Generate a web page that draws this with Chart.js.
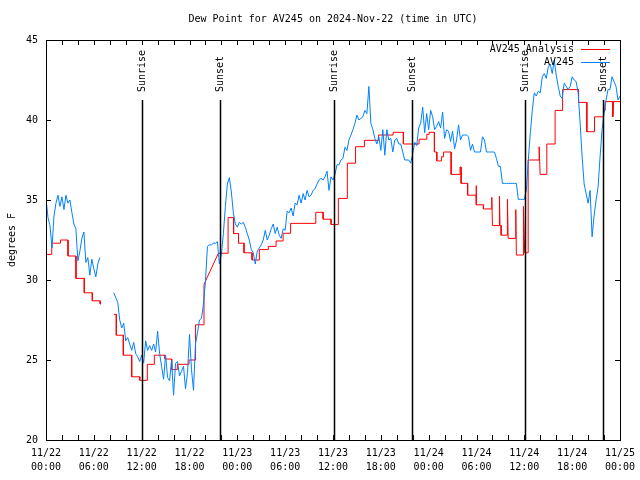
<!DOCTYPE html>
<html>
<head>
<meta charset="utf-8">
<title>Dew Point for AV245</title>
<script src="https://cdn.jsdelivr.net/npm/chart.js@4.4.1/dist/chart.umd.min.js"></script>
<style>
  html, body { margin: 0; padding: 0; background: #fff; }
  canvas { display: block; }
</style>
</head>
<body>
<canvas id="dewChart" width="640" height="480"></canvas>
<script>
// ---------- Data (hours since 2024-11-22 00:00 UTC) ----------
const titleText = "Dew Point for AV245 on 2024-Nov-22 (time in UTC)";
const tickDates = ["11/22", "11/22", "11/22", "11/22", "11/23", "11/23", "11/23", "11/23", "11/24", "11/24", "11/24", "11/24", "11/25"];
const tickTimes = ["00:00", "06:00", "12:00", "18:00", "00:00", "06:00", "12:00", "18:00", "00:00", "06:00", "12:00", "18:00", "00:00"];

const eventNames = ["Sunrise", "Sunset", "Sunrise", "Sunset", "Sunrise", "Sunset"];
const eventHours = [12.08, 21.87, 36.17, 45.96, 60.14, 69.93];

// AV245 observations, one every 15 minutes from 00:00 (null = no data)
const obsStep = 0.25;
const obsValues = [
  35.1, 33.9, 33.4, 32.0, 34.0, 34.8, 35.3, 34.6, 35.2, 34.4, 35.3, 34.8, 35.0, 34.2, 33.5, 33.2,
  31.2, 31.8, 32.6, 33.0, 31.1, 31.4, 30.3, 31.3, 30.7, 30.2, 31.0, 31.4,
  null, null, null, null, null, null,
  29.2, 28.9, 28.6, 27.5, 27.0, 27.3, 26.2, 26.4, 26.0, 25.6, 26.1, 25.4, 25.2, 24.9, 25.3, 24.8,
  26.2, 25.6, 25.9, 25.6, 26.0, 25.5, 26.8, 25.4, 24.6, 23.8, 25.3, 23.9,
  23.7, 25.0, 22.8, 24.8, 24.9, 24.0, 24.3, 24.6, 23.2, 24.2, 26.6, 24.4, 23.1, 26.0, 26.7, 27.5,
  27.6, 28.5, 29.9, 32.1, 32.2, 32.2, 32.3, 32.3, 32.4, 31.0, 31.6, 32.9, 34.6, 36.0, 36.4, 35.5,
  34.2, 33.5, 33.3, 33.6, 33.5, 33.6, 33.3, 32.9, 32.5, 31.9, 31.7, 31.0, 31.8, 32.0, 32.2, 32.5,
  33.1, 32.5, 32.8, 33.2, 33.5, 32.9, 33.3, 32.8, 32.6, 33.2, 33.1,
  34.3, 34.2, 34.5, 34.0, 34.8, 34.7, 35.3, 34.8, 35.4, 35.0, 35.6, 35.2, 35.3, 35.6, 35.7, 36.0,
  36.25, 36.35, 36.25, 36.45, 36.8, 35.6, 36.45, 36.25, 36.6, 37.2, 37.2, 37.5, 37.6, 38.3, 38.1, 38.75,
  39.06, 39.4, 39.8, 40.3, 40.0, 40.1, 40.2, 40.6, 40.4, 42.1, 39.8, 39.4, 38.85, 38.5, 38.95, 38.1,
  39.4, 37.8, 39.4, 38.75, 38.85, 38.0, 38.75, 38.85, 38.5, 38.5, 38.0, 37.5, 37.5, 37.5, 37.3, 37.9,
  38.6, 38.4, 39.5, 39.8, 40.8, 39.2, 40.4, 39.4, 40.6, 40.2, 39.4, 39.6, 39.9, 39.5, 40.5, 38.85,
  39.4, 39.3, 38.65, 39.3, 38.2, 38.75, 39.7, 38.75, 39.06, 39.06, 39.06, 38.95, 38.1, 38.5, 38.0, 38.0,
  38.0, 38.0, 38.95, 38.75, 38.0, 38.0, 38.0, 38.0, 38.0, 37.6, 37.1, 37.1,
  36.04, 36.04, 36.04, 36.04, 36.04, 36.04, 36.04, 36.04, 35.04, 35.04, 35.04, 35.04,
  35.6, 37.5, 39.2, 40.6, 41.7, 41.5, 41.8, 41.7, 42.7, 42.9, 42.6, 43.3, 43.5, 42.9, 43.75, 42.8,
  42.1, 41.5, 41.35, 42.3, 42.1, 41.9, 42.1, 42.7, 42.5, 42.4, 41.7, 39.8, 37.7, 36.0, 35.4, 34.8,
  35.6, 32.7, 34.0, 35.0, 35.8, 37.7, 39.4, 40.4, 41.25, 41.9, 41.9, 42.7, 42.4, 42.1, 41.25, 41.5
];

// AV245 analysis: step corners (hour, value)
const analysisHours = [
  0.09, 0.72, 0.72, 1.82, 1.82, 2.76, 2.76, 3.76, 3.76, 4.8, 4.8, 5.81, 5.81, 6.8, 6.8, 6.9,
  7.5,
  8.53, 8.82, 8.82, 9.7, 9.7, 10.75, 10.75, 11.76, 11.76, 12.71, 12.71, 13.59, 13.59, 14.93, 14.93,
  15.77, 15.77, 16.47, 16.47, 17.94, 17.94, 18.76, 18.76, 19.82, 19.82, 21.62, 22.84, 22.84, 23.53, 23.53,
  24.15, 24.15, 24.84, 24.84, 25.85, 25.85, 26.76, 26.76, 27.89, 27.89, 28.86, 28.86, 29.74, 29.74,
  30.68, 30.68, 33.84, 33.84, 34.76, 34.76, 35.76, 35.76, 36.67, 36.67, 37.8, 37.8, 38.83, 38.83,
  39.94, 39.94, 41.7, 41.7, 43.54, 43.54, 44.83, 44.83, 46.8, 46.8, 47.77, 47.77, 48.06, 48.06,
  48.72, 48.72, 49.02, 49.02, 49.6, 49.6, 49.87, 49.87, 50.82, 50.82, 51.94, 51.94, 52.07, 52.07,
  52.89, 52.89, 53.95, 53.95, 54.0, 54.87, 54.87, 55.92, 55.92, 56.0, 56.88, 56.88, 56.95, 57.09, 57.09,
  57.88, 57.88, 57.97, 58.93, 58.93, 59.0, 59.89, 59.89, 60.04, 60.48, 60.48, 61.86, 61.86, 61.98,
  62.82, 62.82, 63.86, 63.86, 64.8, 64.8, 66.8, 66.8, 67.84, 67.84, 68.8, 68.8, 69.93, 69.93,
  70.14, 70.14, 71.1, 71.1, 71.18, 72.0
];
const analysisValues = [
  31.6, 31.6, 32.3, 32.3, 32.5, 32.5, 31.5, 31.5, 30.1, 30.1, 29.2, 29.2, 28.7, 28.7, 28.5, 28.5,
  null,
  27.85, 27.85, 26.55, 26.55, 25.3, 25.3, 23.95, 23.95, 23.73, 23.73, 24.73, 24.73, 25.3, 25.3, 25.06,
  25.06, 24.4, 24.4, 24.73, 24.73, 25.0, 25.0, 27.2, 27.2, 29.73, 31.67, 31.67, 33.9, 33.9, 32.9,
  32.9, 32.3, 32.3, 31.7, 31.7, 31.25, 31.25, 31.9, 31.9, 32.1, 32.1, 32.44, 32.44, 32.92,
  32.92, 33.54, 33.54, 34.23, 34.23, 33.8, 33.8, 33.47, 33.47, 35.1, 35.1, 37.3, 37.3, 38.33,
  38.33, 38.73, 38.73, 39.06, 39.06, 39.23, 39.23, 38.5, 38.5, 38.8, 38.8, 39.1, 39.1, 39.23,
  39.23, 38.0, 38.0, 37.44, 37.44, 37.7, 37.7, 38.0, 38.0, 36.6, 36.6, 37.06, 37.06, 36.04,
  36.04, 35.3, 35.3, 35.9, 34.7, 34.7, 34.44, 34.44, 35.17, 33.4, 33.4, 35.25, 33.4, 33.4, 32.8,
  32.8, 35.04, 32.6, 32.6, 34.4, 31.56, 31.56, 34.6, 31.7, 31.7, 37.5, 37.5, 38.33, 36.6,
  36.6, 38.5, 38.5, 40.6, 40.6, 41.9, 41.9, 41.1, 41.1, 39.27, 39.27, 40.2, 40.2, 40.6,
  40.6, 41.15, 41.15, 40.2, 41.15, 41.15
];

const analysisColor = "#ff0000";
const obsColor = "#0080ff";
const FONT = "'DejaVu Sans Mono', 'Liberation Mono', monospace";

// ---------- Helpers ----------
function obsPoints() {
  return obsValues.map((v, i) => ({ x: i * obsStep, y: v }));
}
function analysisPoints() {
  return analysisHours.map((h, i) => ({ x: h, y: analysisValues[i] }));
}

// ---------- Plugins: frame / inner ticks, sun lines, legend ----------
const framePlugin = {
  id: "frame",
  afterDatasetsDraw(chart) {
    const { ctx, chartArea: a, scales: { x, y } } = chart;
    ctx.save();
    ctx.strokeStyle = "#000";
    ctx.lineWidth = 1;
    ctx.beginPath();
    for (let h = 0; h <= 72; h += 2) {
      const px = Math.round(x.getPixelForValue(h)) + 0.5;
      ctx.moveTo(px, a.bottom); ctx.lineTo(px, a.bottom - 5);
      ctx.moveTo(px, a.top); ctx.lineTo(px, a.top + 5);
    }
    for (let v = 25; v < 45; v += 5) {
      const py = Math.round(y.getPixelForValue(v)) + 0.5;
      ctx.moveTo(a.left, py); ctx.lineTo(a.left + 5, py);
      ctx.moveTo(a.right, py); ctx.lineTo(a.right - 5, py);
    }
    ctx.stroke();
    ctx.strokeRect(Math.round(a.left) + 0.5, Math.round(a.top) + 0.5,
      Math.round(a.right - a.left), Math.round(a.bottom - a.top));

    // sunrise / sunset markers
    ctx.lineWidth = 1.5;
    ctx.font = "10px " + FONT;
    ctx.fillStyle = "#000";
    eventHours.forEach((h, i) => {
      const px = Math.round(x.getPixelForValue(h)) + 0.5;
      ctx.beginPath();
      ctx.moveTo(px, a.bottom);
      ctx.lineTo(px, a.top + 60);
      ctx.stroke();
      ctx.save();
      ctx.translate(px, a.top + 52);
      ctx.rotate(-Math.PI / 2);
      ctx.textAlign = "left";
      ctx.textBaseline = "middle";
      ctx.fillText(eventNames[i], 0, 0);
      ctx.restore();
    });

    // legend (gnuplot style, top right inside the plot)
    ctx.lineWidth = 1;
    ctx.textAlign = "right";
    ctx.textBaseline = "middle";
    chart.data.datasets.forEach((ds, i) => {
      const ly = a.top + 9.5 + i * 13;
      ctx.fillStyle = "#000";
      ctx.fillText(ds.label, a.right - 46, ly);
      ctx.strokeStyle = ds.borderColor;
      ctx.beginPath();
      ctx.moveTo(a.right - 39, ly);
      ctx.lineTo(a.right - 10, ly);
      ctx.stroke();
    });
    ctx.restore();
  }
};

// ---------- Chart ----------
Chart.defaults.font.family = FONT;
Chart.defaults.font.size = 10;
Chart.defaults.color = "#000";

new Chart(document.getElementById("dewChart"), {
  type: "line",
  data: {
    datasets: [
      {
        label: "AV245 Analysis",
        data: analysisPoints(),
        borderColor: analysisColor,
        borderWidth: 1,
        pointRadius: 0,
        order: 1
      },
      {
        label: "AV245",
        data: obsPoints(),
        borderColor: obsColor,
        borderWidth: 1,
        pointRadius: 0,
        order: 0
      }
    ]
  },
  options: {
    responsive: false,
    animation: false,
    devicePixelRatio: 1,
    layout: { padding: { left: 0, right: 20, top: 0, bottom: 0 } },
    plugins: {
      legend: { display: false },
      tooltip: { enabled: false },
      title: {
        display: true,
        text: titleText,
        fullSize: false,
        font: { size: 10, weight: "normal" },
        padding: { top: 13, bottom: 15 }
      }
    },
    scales: {
      x: {
        type: "linear",
        min: 0,
        max: 72,
        grid: { display: false, drawTicks: false },
        border: { display: false },
        afterFit: s => { s.height = 40; s.paddingLeft = 0; s.paddingRight = 0; },
        ticks: {
          stepSize: 6,
          autoSkip: false,
          maxRotation: 0,
          padding: 7,
          font: { size: 10, lineHeight: 1.35 },
          callback: v => [tickDates[v / 6], tickTimes[v / 6]]
        }
      },
      y: {
        min: 20,
        max: 45,
        grid: { display: false, drawTicks: false },
        border: { display: false },
        afterFit: s => { s.width = 46; s.paddingTop = 0; s.paddingBottom = 0; },
        ticks: { stepSize: 5, padding: 8 },
        title: {
          display: true,
          text: "degrees F",
          font: { size: 10 },
          padding: { top: 6, bottom: 0 }
        }
      }
    }
  },
  plugins: [framePlugin]
});
</script>
</body>
</html>
